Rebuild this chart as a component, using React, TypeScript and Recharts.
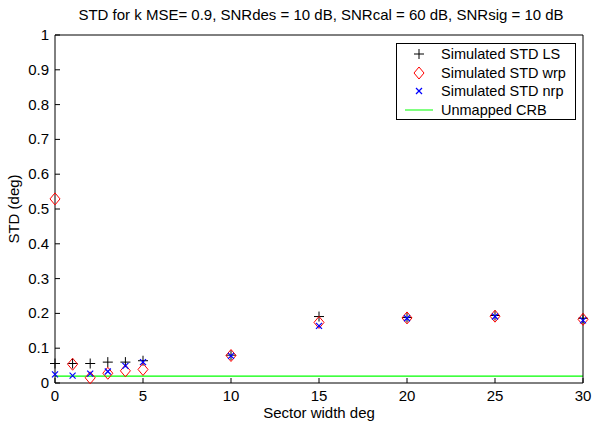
import React from 'react';
import {
  ComposedChart,
  Scatter,
  Line,
  XAxis,
  YAxis,
  Label,
} from 'recharts';

// sector widths (deg)
const sectorWidths = [0, 1, 2, 3, 4, 5, 10, 15, 20, 25, 30];

// simulated STD values
const stdLS = [0.056, 0.056, 0.056, 0.06, 0.06, 0.064, 0.08, 0.191, 0.188, 0.194, 0.186];
const stdWrp = [0.529, 0.054, 0.015, 0.028, 0.035, 0.039, 0.079, 0.174, 0.187, 0.192, 0.183];
const stdNrp = [0.025, 0.021, 0.027, 0.033, 0.049, 0.06, 0.078, 0.164, 0.186, 0.191, 0.18];

const crbX = [0, 30];
const crbValue = 0.02;

const xTicks = [0, 5, 10, 15, 20, 25, 30];
const yTicks = [0, 0.1, 0.2, 0.3, 0.4, 0.5, 0.6, 0.7, 0.8, 0.9, 1];

const title = 'STD for k MSE= 0.9, SNRdes = 10 dB, SNRcal = 60 dB, SNRsig = 10 dB';

const FONT = 'Arial, "Liberation Sans", Helvetica, sans-serif';
const FS = 15;
const TICK_LEN = 5;

const lsData = sectorWidths.map((x, i) => ({ x, y: stdLS[i] }));
const wrpData = sectorWidths.map((x, i) => ({ x, y: stdWrp[i] }));
const nrpData = sectorWidths.map((x, i) => ({ x, y: stdNrp[i] }));
const crbData = crbX.map((x) => ({ x, y: crbValue }));

function PlusMark(props: any) {
  const { cx, cy } = props;
  if (cx == null || cy == null) return null;
  return (
    <g stroke="#000" strokeWidth={1}>
      <line x1={cx - 5} y1={cy} x2={cx + 5} y2={cy} />
      <line x1={cx} y1={cy - 5} x2={cx} y2={cy + 5} />
    </g>
  );
}

function DiamondMark(props: any) {
  const { cx, cy } = props;
  if (cx == null || cy == null) return null;
  return (
    <path
      d={`M${cx},${cy - 6}L${cx + 5},${cy}L${cx},${cy + 6}L${cx - 5},${cy}Z`}
      fill="none"
      stroke="#ff0000"
      strokeWidth={1}
    />
  );
}

function XMark(props: any) {
  const { cx, cy } = props;
  if (cx == null || cy == null) return null;
  return (
    <g stroke="#0000ff" strokeWidth={1.2}>
      <line x1={cx - 3} y1={cy - 3} x2={cx + 3} y2={cy + 3} />
      <line x1={cx - 3} y1={cy + 3} x2={cx + 3} y2={cy - 3} />
    </g>
  );
}

// matlab style ticks: pointing inward, label outside
function LeftTick(props: any) {
  const { x, y, payload } = props;
  const edge = x + 6;
  return (
    <g>
      <line x1={edge} y1={y} x2={edge + TICK_LEN} y2={y} stroke="#000" />
      <text x={x} y={y} dy={5} textAnchor="end" fontSize={FS} fontFamily={FONT} fill="#000">
        {payload.value}
      </text>
    </g>
  );
}

function RightTick(props: any) {
  const { x, y } = props;
  const edge = x - 2;
  return <line x1={edge} y1={y} x2={edge - TICK_LEN} y2={y} stroke="#000" />;
}

function BottomTick(props: any) {
  const { x, y, payload } = props;
  const edge = y - 2;
  return (
    <g>
      <line x1={x} y1={edge} x2={x} y2={edge - TICK_LEN} stroke="#000" />
      <text x={x} y={y} dy={16} textAnchor="middle" fontSize={FS} fontFamily={FONT} fill="#000">
        {payload.value}
      </text>
    </g>
  );
}

function TopTick(props: any) {
  const { x, y } = props;
  const edge = y + 2;
  return <line x1={x} y1={edge} x2={x} y2={edge + TICK_LEN} stroke="#000" />;
}

const legendRows = [
  { name: 'Simulated STD LS', kind: 'plus' },
  { name: 'Simulated STD wrp', kind: 'diamond' },
  { name: 'Simulated STD nrp', kind: 'x' },
  { name: 'Unmapped CRB', kind: 'line' },
];

function LegendIcon({ kind }: { kind: string }) {
  return (
    <svg width={36} height={18} style={{ display: 'block' }}>
      {kind === 'plus' && <PlusMark cx={18} cy={9} />}
      {kind === 'diamond' && <DiamondMark cx={18} cy={9} />}
      {kind === 'x' && <XMark cx={18} cy={9} />}
      {kind === 'line' && <line x1={4} y1={9} x2={32} y2={9} stroke="#00ff00" strokeWidth={1} />}
    </svg>
  );
}

function MatlabLegend() {
  return (
    <div
      style={{
        position: 'absolute',
        left: 396,
        top: 43,
        border: '1px solid #000',
        background: '#fff',
        padding: '1px 0',
        boxSizing: 'border-box',
        width: 180,
        height: 77,
        fontFamily: FONT,
        fontSize: FS - 0.5,
        color: '#000',
        lineHeight: 1,
      }}
    >
      {legendRows.map((r) => (
        <div key={r.name} style={{ display: 'flex', alignItems: 'center', height: 18.5 }}>
          <div style={{ marginLeft: 4 }}>
            <LegendIcon kind={r.kind} />
          </div>
          <span style={{ marginLeft: 4 }}>{r.name}</span>
        </div>
      ))}
    </div>
  );
}

export default function App() {
  return (
    <div style={{ position: 'absolute', left: 0, top: 0, width: 592, height: 423, background: '#fff' }}>
      <ComposedChart
        width={592}
        height={423}
        margin={{ top: 30, right: 4, left: 20, bottom: 15 }}
      >
        <text x={321} y={20} textAnchor="middle" fontSize={FS} fontFamily={FONT} fill="#000">
          {title}
        </text>
        <XAxis
          xAxisId="bottom"
          dataKey="x"
          type="number"
          domain={[0, 30]}
          ticks={xTicks}
          stroke="#000"
          tickLine={false}
          tickSize={0}
          height={25}
          tick={<BottomTick />}
        >
          <Label
            value="Sector width deg"
            position="bottom"
            offset={0}
            dy={-1}
            style={{ fontSize: FS, fontFamily: FONT, fill: '#000' }}
          />
        </XAxis>
        <XAxis
          xAxisId="top"
          dataKey="x"
          type="number"
          orientation="top"
          domain={[0, 30]}
          ticks={xTicks}
          stroke="#000"
          tickLine={false}
          tickSize={0}
          height={5}
          tick={<TopTick />}
        />
        <YAxis
          yAxisId="left"
          type="number"
          domain={[0, 1]}
          ticks={yTicks}
          stroke="#000"
          tickLine={false}
          tickSize={0}
          tickMargin={6}
          width={35}
          tick={<LeftTick />}
        >
          <Label
            value="STD (deg)"
            angle={-90}
            position="insideLeft"
            offset={-6}
            style={{ fontSize: FS, fontFamily: FONT, fill: '#000', textAnchor: 'middle' }}
          />
        </YAxis>
        <YAxis
          yAxisId="right"
          type="number"
          orientation="right"
          domain={[0, 1]}
          ticks={yTicks}
          stroke="#000"
          tickLine={false}
          tickSize={0}
          tickMargin={2}
          width={5}
          tick={<RightTick />}
        />
        <Line
          xAxisId="bottom"
          yAxisId="left"
          data={crbData}
          dataKey="y"
          name="Unmapped CRB"
          type="linear"
          stroke="#00ff00"
          strokeWidth={1.2}
          dot={false}
          activeDot={false}
          isAnimationActive={false}
        />
        <Scatter
          xAxisId="bottom"
          yAxisId="left"
          data={lsData}
          dataKey="y"
          name="Simulated STD LS"
          shape={<PlusMark />}
          isAnimationActive={false}
        />
        <Scatter
          xAxisId="bottom"
          yAxisId="left"
          data={wrpData}
          dataKey="y"
          name="Simulated STD wrp"
          shape={<DiamondMark />}
          isAnimationActive={false}
        />
        <Scatter
          xAxisId="bottom"
          yAxisId="left"
          data={nrpData}
          dataKey="y"
          name="Simulated STD nrp"
          shape={<XMark />}
          isAnimationActive={false}
        />
      </ComposedChart>
      <MatlabLegend />
    </div>
  );
}
